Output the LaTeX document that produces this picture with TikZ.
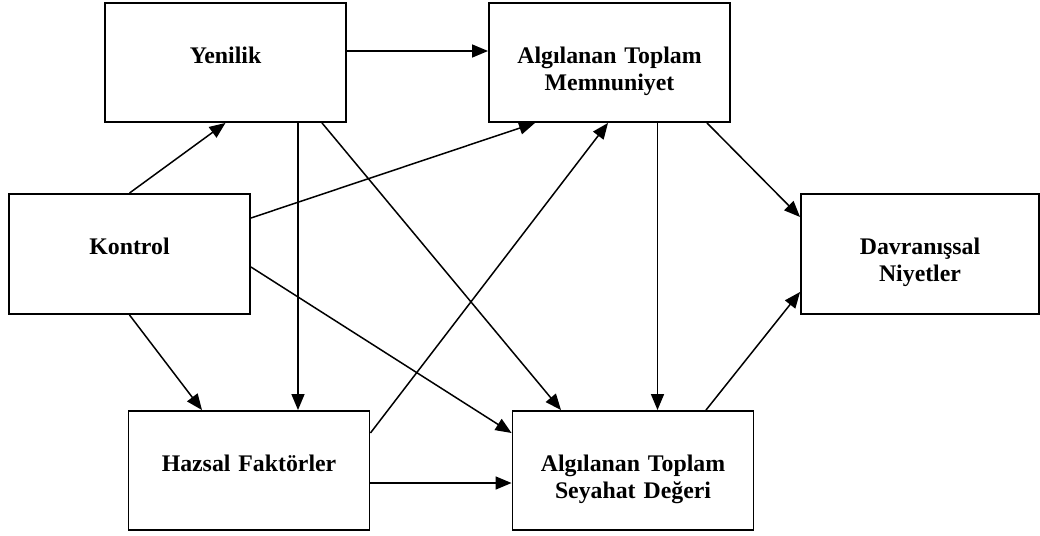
\documentclass[tikz,border=0pt]{standalone}
\usepackage{fontspec}
\setmainfont{Liberation Serif}
\usetikzlibrary{arrows.meta}
\begin{document}
\begin{tikzpicture}[x=1pt,y=-1pt,
  box/.style={draw,line width=1.9pt,minimum width=241pt,minimum height=119pt,inner sep=0pt},
  caption/.style={anchor=base,text width=230pt,align=center,inner sep=0pt,
    font=\fontsize{23.8}{27.3}\selectfont\bfseries},
  link/.style={line width=1.5pt,-{Triangle[length=16pt,width=13pt]}}]
\useasboundingbox (0,0) rectangle (1040,535);

% boxes
\node[box] (yen) at (225.5,62.5) {};
\node[box] (mem) at (609.5,62.5) {};
\node[box,minimum height=120pt] (kon) at (129.5,254) {};
\node[box,minimum height=120pt,minimum width=238pt] (dav) at (920,254) {};
\node[box] (haz) at (249,470.5) {};
\node[box] (sey) at (633,470.5) {};

% captions, first baseline at a fixed depth below each top edge
\node[caption] (tyen) at ([yshift=-61.5pt]yen.north) {Yenilik};
\node[caption] (tmem) at ([yshift=-61.5pt]mem.north) {Algılanan Toplam\\Memnuniyet};
\node[caption] (tkon) at ([yshift=-61.5pt]kon.north) {Kontrol};
\node[caption] (tdav) at ([yshift=-61.5pt]dav.north) {Davranışsal\\Niyetler};
\node[caption] (thaz) at ([yshift=-61.5pt]haz.north) {Hazsal Faktörler};
\node[caption] (tsey) at ([yshift=-61.5pt]sey.north) {Algılanan Toplam\\Seyahat Değeri};

% paths
\draw[link] ([yshift=11.5pt]yen.east) -- ([yshift=11.5pt]mem.west);
\draw[link] (kon.north) -- (yen.south);
\draw[link] ([xshift=72.5pt]yen.south) -- ([xshift=49pt]haz.north);
\draw[link] ([xshift=96.5pt]yen.south) -- ([xshift=-72pt]sey.north);
\draw[link] ([yshift=36pt]kon.east) -- ([xshift=-74.5pt]mem.south);
\draw[link] ([yshift=-13pt]kon.east) -- ([yshift=37.5pt]sey.west);
\draw[link] (kon.south) -- ([xshift=-47pt]haz.north);
\draw[link] ([yshift=37.5pt]haz.east) -- ([xshift=-1.5pt]mem.south);
\draw[link] ([yshift=-12.5pt]haz.east) -- ([yshift=-12.5pt]sey.west);
\draw[link] ([xshift=48pt]mem.south) -- ([xshift=24.5pt]sey.north);
\draw[link] ([xshift=97.5pt]mem.south) -- ([yshift=37pt]dav.west);
\draw[link] ([xshift=73pt]sey.north) -- ([yshift=-38pt]dav.west);
\end{tikzpicture}
\end{document}
